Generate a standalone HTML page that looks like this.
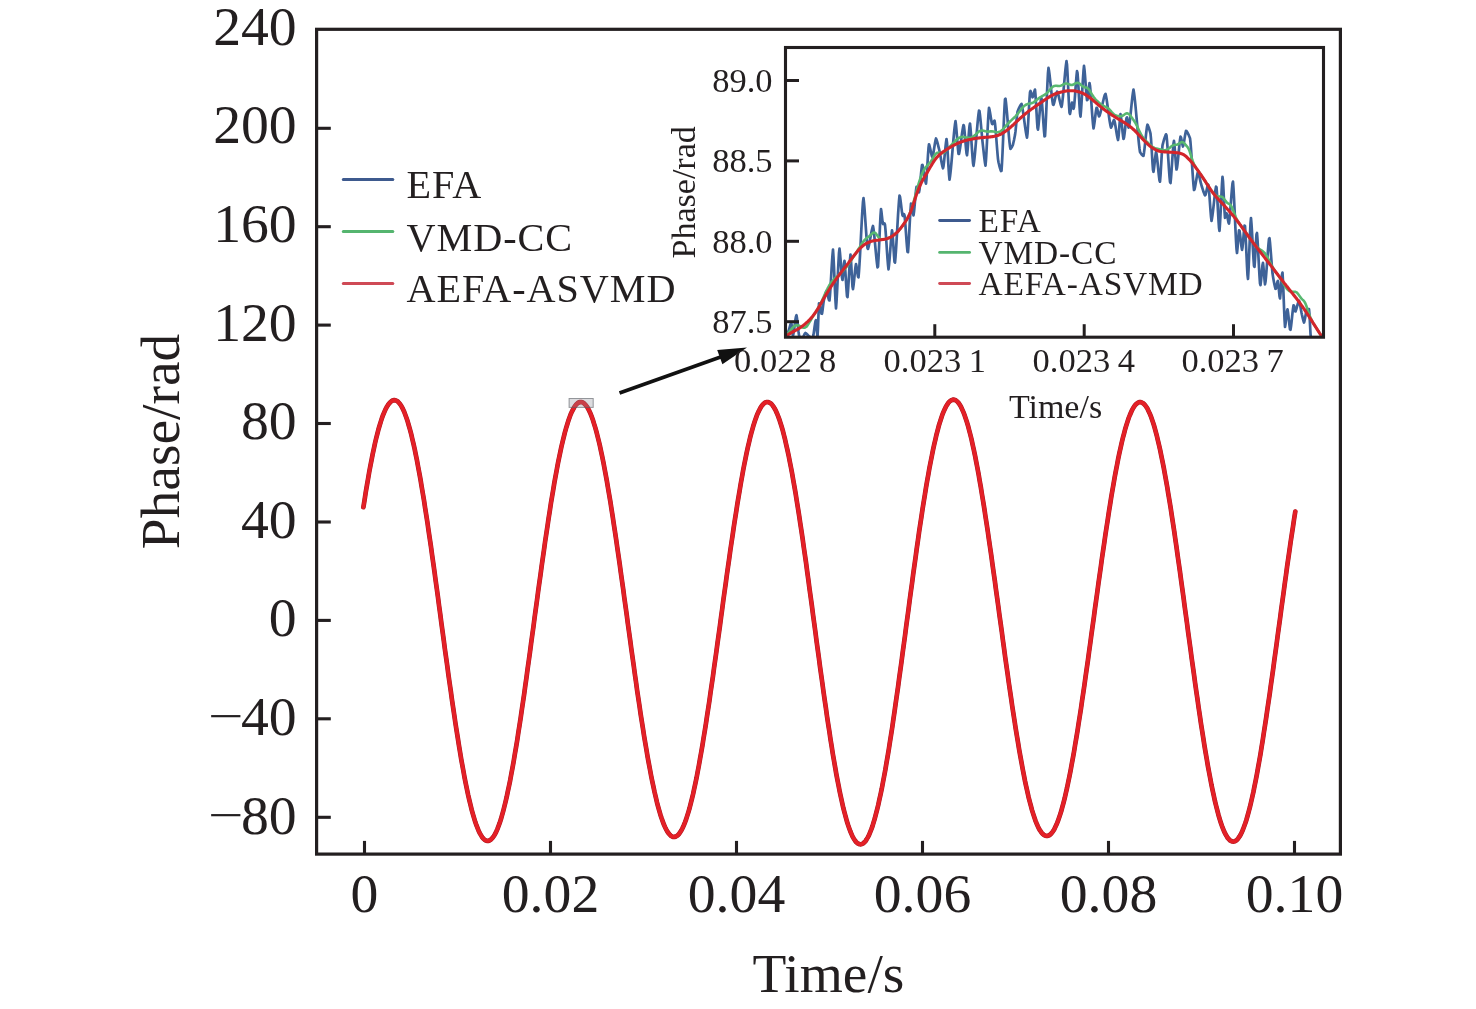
<!DOCTYPE html>
<html lang="en"><head><meta charset="utf-8"><title>Phase demodulation comparison</title>
<style>html,body{margin:0;padding:0;background:#fff}svg{display:block}text{font-family:"Liberation Serif","Times New Roman",serif;fill:#231f20}</style></head><body>
<svg width="1476" height="1009" viewBox="0 0 1476 1009">
<rect width="1476" height="1009" fill="#fff"/>
<defs><clipPath id="ci"><rect x="785.5" y="47.5" width="538" height="289.7"/></clipPath></defs>
<g fill="none" stroke-linecap="round" stroke-linejoin="round">
<path d="M363.4,507.2 L364.6,499.8 L365.7,492.5 L366.9,485.5 L368.1,478.7 L369.2,472.1 L370.4,465.8 L371.6,459.8 L372.7,454.0 L373.9,448.5 L375.0,443.2 L376.2,438.3 L377.4,433.6 L378.5,429.2 L379.7,425.2 L380.9,421.4 L382.0,417.9 L383.2,414.7 L384.4,411.9 L385.5,409.3 L386.7,407.1 L387.9,405.2 L389.0,403.6 L390.2,402.3 L391.4,401.3 L392.5,400.6 L393.7,400.2 L394.9,400.2 L396.0,400.5 L397.2,401.1 L398.3,402.1 L399.5,403.3 L400.7,405.0 L401.8,406.9 L403.0,409.2 L404.2,411.8 L405.3,414.8 L406.5,418.0 L407.7,421.6 L408.8,425.5 L410.0,429.7 L411.2,434.1 L412.3,438.9 L413.5,443.9 L414.7,449.2 L415.8,454.8 L417.0,460.6 L418.1,466.7 L419.3,473.0 L420.5,479.5 L421.6,486.3 L422.8,493.3 L424.0,500.4 L425.1,507.8 L426.3,515.3 L427.5,523.0 L428.6,530.8 L429.8,538.8 L431.0,546.9 L432.1,555.1 L433.3,563.4 L434.5,571.8 L435.6,580.2 L436.8,588.8 L438.0,597.4 L439.1,606.0 L440.3,614.6 L441.4,623.3 L442.6,631.9 L443.8,640.6 L444.9,649.2 L446.1,657.7 L447.3,666.2 L448.4,674.6 L449.6,683.0 L450.8,691.2 L451.9,699.4 L453.1,707.4 L454.3,715.3 L455.4,723.0 L456.6,730.6 L457.8,738.0 L458.9,745.2 L460.1,752.3 L461.2,759.1 L462.4,765.7 L463.6,772.1 L464.7,778.3 L465.9,784.2 L467.1,789.9 L468.2,795.3 L469.4,800.4 L470.6,805.3 L471.7,809.9 L472.9,814.1 L474.1,818.1 L475.2,821.8 L476.4,825.2 L477.6,828.2 L478.7,831.0 L479.9,833.4 L481.1,835.4 L482.2,837.2 L483.4,838.6 L484.5,839.7 L485.7,840.4 L486.9,840.8 L488.0,840.9 L489.2,840.6 L490.4,840.0 L491.5,839.0 L492.7,837.7 L493.9,836.0 L495.0,834.1 L496.2,831.8 L497.4,829.1 L498.5,826.2 L499.7,822.9 L500.9,819.3 L502.0,815.4 L503.2,811.2 L504.3,806.8 L505.5,802.0 L506.7,796.9 L507.8,791.6 L509.0,786.0 L510.2,780.2 L511.3,774.1 L512.5,767.8 L513.7,761.2 L514.8,754.4 L516.0,747.5 L517.2,740.3 L518.3,732.9 L519.5,725.4 L520.7,717.7 L521.8,709.9 L523.0,701.9 L524.2,693.8 L525.3,685.6 L526.5,677.3 L527.6,668.9 L528.8,660.5 L530.0,651.9 L531.1,643.4 L532.3,634.8 L533.5,626.2 L534.6,617.5 L535.8,608.9 L537.0,600.3 L538.1,591.7 L539.3,583.2 L540.5,574.8 L541.6,566.4 L542.8,558.1 L544.0,549.9 L545.1,541.8 L546.3,533.8 L547.5,526.0 L548.6,518.3 L549.8,510.8 L550.9,503.4 L552.1,496.3 L553.3,489.3 L554.4,482.5 L555.6,476.0 L556.8,469.6 L557.9,463.5 L559.1,457.7 L560.3,452.1 L561.4,446.8 L562.6,441.7 L563.8,436.9 L564.9,432.4 L566.1,428.2 L567.3,424.2 L568.4,420.6 L569.6,417.3 L570.7,414.3 L571.9,411.6 L573.1,409.3 L574.2,407.3 L575.4,405.5 L576.6,404.2 L577.7,403.1 L578.9,402.4 L580.1,402.1 L581.2,402.0 L582.4,402.3 L583.6,403.0 L584.7,404.0 L585.9,405.3 L587.1,406.9 L588.2,408.9 L589.4,411.2 L590.6,413.8 L591.7,416.7 L592.9,420.0 L594.0,423.6 L595.2,427.4 L596.4,431.6 L597.5,436.0 L598.7,440.8 L599.9,445.8 L601.0,451.1 L602.2,456.6 L603.4,462.4 L604.5,468.4 L605.7,474.7 L606.9,481.2 L608.0,487.9 L609.2,494.8 L610.4,501.9 L611.5,509.1 L612.7,516.6 L613.8,524.2 L615.0,531.9 L616.2,539.8 L617.3,547.8 L618.5,555.9 L619.7,564.1 L620.8,572.4 L622.0,580.8 L623.2,589.2 L624.3,597.7 L625.5,606.2 L626.7,614.7 L627.8,623.2 L629.0,631.8 L630.2,640.3 L631.3,648.7 L632.5,657.2 L633.7,665.5 L634.8,673.8 L636.0,682.0 L637.1,690.2 L638.3,698.2 L639.5,706.0 L640.6,713.8 L641.8,721.4 L643.0,728.8 L644.1,736.1 L645.3,743.2 L646.5,750.1 L647.6,756.8 L648.8,763.3 L650.0,769.6 L651.1,775.6 L652.3,781.5 L653.5,787.0 L654.6,792.3 L655.8,797.3 L656.9,802.1 L658.1,806.6 L659.3,810.8 L660.4,814.7 L661.6,818.3 L662.8,821.6 L663.9,824.6 L665.1,827.2 L666.3,829.6 L667.4,831.6 L668.6,833.3 L669.8,834.7 L670.9,835.8 L672.1,836.5 L673.3,836.9 L674.4,836.9 L675.6,836.6 L676.8,836.0 L677.9,835.1 L679.1,833.8 L680.2,832.2 L681.4,830.3 L682.6,828.0 L683.7,825.5 L684.9,822.6 L686.1,819.4 L687.2,815.9 L688.4,812.1 L689.6,808.0 L690.7,803.6 L691.9,798.9 L693.1,794.0 L694.2,788.8 L695.4,783.3 L696.6,777.6 L697.7,771.6 L698.9,765.4 L700.0,759.0 L701.2,752.4 L702.4,745.5 L703.5,738.5 L704.7,731.3 L705.9,723.9 L707.0,716.3 L708.2,708.6 L709.4,700.8 L710.5,692.8 L711.7,684.7 L712.9,676.6 L714.0,668.3 L715.2,659.9 L716.4,651.5 L717.5,643.1 L718.7,634.6 L719.9,626.1 L721.0,617.6 L722.2,609.0 L723.3,600.5 L724.5,592.0 L725.7,583.6 L726.8,575.2 L728.0,566.9 L729.2,558.7 L730.3,550.5 L731.5,542.5 L732.7,534.6 L733.8,526.8 L735.0,519.1 L736.2,511.7 L737.3,504.3 L738.5,497.2 L739.7,490.2 L740.8,483.4 L742.0,476.9 L743.1,470.6 L744.3,464.4 L745.5,458.6 L746.6,453.0 L747.8,447.6 L749.0,442.5 L750.1,437.7 L751.3,433.1 L752.5,428.9 L753.6,424.9 L754.8,421.2 L756.0,417.9 L757.1,414.8 L758.3,412.1 L759.5,409.7 L760.6,407.6 L761.8,405.8 L763.0,404.4 L764.1,403.3 L765.3,402.5 L766.4,402.1 L767.6,402.0 L768.8,402.3 L769.9,402.8 L771.1,403.7 L772.3,405.0 L773.4,406.6 L774.6,408.5 L775.8,410.7 L776.9,413.2 L778.1,416.1 L779.3,419.3 L780.4,422.8 L781.6,426.5 L782.8,430.6 L783.9,435.0 L785.1,439.7 L786.2,444.7 L787.4,449.9 L788.6,455.4 L789.7,461.1 L790.9,467.1 L792.1,473.4 L793.2,479.8 L794.4,486.5 L795.6,493.4 L796.7,500.5 L797.9,507.8 L799.1,515.3 L800.2,522.9 L801.4,530.7 L802.6,538.7 L803.7,546.7 L804.9,554.9 L806.1,563.2 L807.2,571.6 L808.4,580.1 L809.5,588.7 L810.7,597.3 L811.9,605.9 L813.0,614.6 L814.2,623.3 L815.4,632.0 L816.5,640.7 L817.7,649.4 L818.9,658.0 L820.0,666.6 L821.2,675.1 L822.4,683.5 L823.5,691.8 L824.7,700.1 L825.9,708.2 L827.0,716.2 L828.2,724.1 L829.4,731.7 L830.5,739.3 L831.7,746.6 L832.8,753.8 L834.0,760.7 L835.2,767.5 L836.3,774.0 L837.5,780.3 L838.7,786.3 L839.8,792.1 L841.0,797.6 L842.2,802.9 L843.3,807.9 L844.5,812.5 L845.7,816.9 L846.8,821.0 L848.0,824.8 L849.2,828.2 L850.3,831.3 L851.5,834.1 L852.6,836.6 L853.8,838.7 L855.0,840.5 L856.1,842.0 L857.3,843.1 L858.5,843.8 L859.6,844.2 L860.8,844.3 L862.0,844.0 L863.1,843.4 L864.3,842.4 L865.5,841.1 L866.6,839.4 L867.8,837.4 L869.0,835.1 L870.1,832.4 L871.3,829.4 L872.5,826.1 L873.6,822.4 L874.8,818.5 L875.9,814.2 L877.1,809.6 L878.3,804.8 L879.4,799.6 L880.6,794.2 L881.8,788.6 L882.9,782.6 L884.1,776.4 L885.3,770.0 L886.4,763.3 L887.6,756.5 L888.8,749.4 L889.9,742.1 L891.1,734.6 L892.3,727.0 L893.4,719.2 L894.6,711.2 L895.7,703.1 L896.9,694.9 L898.1,686.6 L899.2,678.1 L900.4,669.6 L901.6,661.0 L902.7,652.4 L903.9,643.7 L905.1,635.0 L906.2,626.2 L907.4,617.5 L908.6,608.7 L909.7,600.0 L910.9,591.3 L912.1,582.7 L913.2,574.1 L914.4,565.6 L915.6,557.2 L916.7,548.9 L917.9,540.7 L919.0,532.6 L920.2,524.7 L921.4,516.9 L922.5,509.3 L923.7,501.9 L924.9,494.6 L926.0,487.6 L927.2,480.7 L928.4,474.1 L929.5,467.7 L930.7,461.6 L931.9,455.6 L933.0,450.0 L934.2,444.6 L935.4,439.5 L936.5,434.6 L937.7,430.1 L938.8,425.8 L940.0,421.9 L941.2,418.3 L942.3,414.9 L943.5,411.9 L944.7,409.2 L945.8,406.9 L947.0,404.8 L948.2,403.1 L949.3,401.8 L950.5,400.8 L951.7,400.1 L952.8,399.7 L954.0,399.7 L955.2,400.0 L956.3,400.7 L957.5,401.7 L958.7,403.1 L959.8,404.8 L961.0,406.8 L962.1,409.2 L963.3,411.9 L964.5,414.9 L965.6,418.2 L966.8,421.8 L968.0,425.7 L969.1,430.0 L970.3,434.5 L971.5,439.3 L972.6,444.4 L973.8,449.8 L975.0,455.4 L976.1,461.2 L977.3,467.4 L978.5,473.7 L979.6,480.3 L980.8,487.0 L981.9,494.0 L983.1,501.2 L984.3,508.5 L985.4,516.0 L986.6,523.7 L987.8,531.5 L988.9,539.4 L990.1,547.5 L991.3,555.7 L992.4,563.9 L993.6,572.3 L994.8,580.7 L995.9,589.1 L997.1,597.6 L998.3,606.2 L999.4,614.7 L1000.6,623.2 L1001.8,631.8 L1002.9,640.3 L1004.1,648.8 L1005.2,657.2 L1006.4,665.6 L1007.6,673.8 L1008.7,682.0 L1009.9,690.1 L1011.1,698.1 L1012.2,706.0 L1013.4,713.7 L1014.6,721.3 L1015.7,728.7 L1016.9,735.9 L1018.1,743.0 L1019.2,749.9 L1020.4,756.5 L1021.6,763.0 L1022.7,769.2 L1023.9,775.2 L1025.0,781.0 L1026.2,786.5 L1027.4,791.8 L1028.5,796.8 L1029.7,801.5 L1030.9,805.9 L1032.0,810.1 L1033.2,813.9 L1034.4,817.5 L1035.5,820.8 L1036.7,823.7 L1037.9,826.4 L1039.0,828.7 L1040.2,830.7 L1041.4,832.4 L1042.5,833.7 L1043.7,834.8 L1044.9,835.5 L1046.0,835.9 L1047.2,835.9 L1048.3,835.7 L1049.5,835.1 L1050.7,834.1 L1051.8,832.9 L1053.0,831.3 L1054.2,829.4 L1055.3,827.1 L1056.5,824.6 L1057.7,821.7 L1058.8,818.5 L1060.0,815.0 L1061.2,811.3 L1062.3,807.2 L1063.5,802.8 L1064.7,798.2 L1065.8,793.3 L1067.0,788.1 L1068.1,782.7 L1069.3,777.0 L1070.5,771.0 L1071.6,764.9 L1072.8,758.5 L1074.0,751.9 L1075.1,745.0 L1076.3,738.0 L1077.5,730.9 L1078.6,723.5 L1079.8,716.0 L1081.0,708.3 L1082.1,700.5 L1083.3,692.6 L1084.5,684.5 L1085.6,676.4 L1086.8,668.1 L1088.0,659.8 L1089.1,651.5 L1090.3,643.0 L1091.4,634.6 L1092.6,626.1 L1093.8,617.6 L1094.9,609.1 L1096.1,600.6 L1097.3,592.1 L1098.4,583.7 L1099.6,575.3 L1100.8,567.0 L1101.9,558.8 L1103.1,550.7 L1104.3,542.6 L1105.4,534.7 L1106.6,527.0 L1107.8,519.3 L1108.9,511.8 L1110.1,504.5 L1111.2,497.4 L1112.4,490.4 L1113.6,483.6 L1114.7,477.1 L1115.9,470.7 L1117.1,464.6 L1118.2,458.8 L1119.4,453.1 L1120.6,447.8 L1121.7,442.7 L1122.9,437.8 L1124.1,433.3 L1125.2,429.0 L1126.4,425.1 L1127.6,421.4 L1128.7,418.0 L1129.9,415.0 L1131.1,412.2 L1132.2,409.8 L1133.4,407.7 L1134.5,406.0 L1135.7,404.5 L1136.9,403.4 L1138.0,402.7 L1139.2,402.2 L1140.4,402.1 L1141.5,402.4 L1142.7,403.0 L1143.9,403.9 L1145.0,405.1 L1146.2,406.7 L1147.4,408.6 L1148.5,410.9 L1149.7,413.4 L1150.9,416.3 L1152.0,419.5 L1153.2,423.0 L1154.4,426.8 L1155.5,430.9 L1156.7,435.3 L1157.8,440.0 L1159.0,445.0 L1160.2,450.2 L1161.3,455.7 L1162.5,461.5 L1163.7,467.5 L1164.8,473.7 L1166.0,480.2 L1167.2,486.9 L1168.3,493.8 L1169.5,500.9 L1170.7,508.2 L1171.8,515.7 L1173.0,523.3 L1174.2,531.1 L1175.3,539.0 L1176.5,547.1 L1177.6,555.2 L1178.8,563.5 L1180.0,571.9 L1181.1,580.3 L1182.3,588.8 L1183.5,597.4 L1184.6,606.0 L1185.8,614.6 L1187.0,623.3 L1188.1,631.9 L1189.3,640.5 L1190.5,649.1 L1191.6,657.7 L1192.8,666.2 L1194.0,674.6 L1195.1,683.0 L1196.3,691.3 L1197.5,699.4 L1198.6,707.5 L1199.8,715.4 L1200.9,723.1 L1202.1,730.7 L1203.3,738.2 L1204.4,745.4 L1205.6,752.5 L1206.8,759.4 L1207.9,766.0 L1209.1,772.4 L1210.3,778.6 L1211.4,784.6 L1212.6,790.3 L1213.8,795.7 L1214.9,800.9 L1216.1,805.8 L1217.3,810.4 L1218.4,814.7 L1219.6,818.7 L1220.7,822.4 L1221.9,825.8 L1223.1,828.9 L1224.2,831.6 L1225.4,834.0 L1226.6,836.1 L1227.7,837.9 L1228.9,839.3 L1230.1,840.4 L1231.2,841.1 L1232.4,841.5 L1233.6,841.6 L1234.7,841.3 L1235.9,840.7 L1237.1,839.7 L1238.2,838.4 L1239.4,836.7 L1240.6,834.7 L1241.7,832.4 L1242.9,829.8 L1244.0,826.8 L1245.2,823.5 L1246.4,819.9 L1247.5,816.0 L1248.7,811.7 L1249.9,807.2 L1251.0,802.4 L1252.2,797.3 L1253.4,792.0 L1254.5,786.3 L1255.7,780.5 L1256.9,774.3 L1258.0,768.0 L1259.2,761.4 L1260.4,754.6 L1261.5,747.6 L1262.7,740.4 L1263.8,733.0 L1265.0,725.4 L1266.2,717.7 L1267.3,709.9 L1268.5,701.9 L1269.7,693.8 L1270.8,685.6 L1272.0,677.3 L1273.2,668.9 L1274.3,660.4 L1275.5,651.9 L1276.7,643.3 L1277.8,634.7 L1279.0,626.1 L1280.2,617.5 L1281.3,608.9 L1282.5,600.4 L1283.7,591.8 L1284.8,583.4 L1286.0,575.0 L1287.1,566.6 L1288.3,558.4 L1289.5,550.2 L1290.6,542.2 L1291.8,534.3 L1293.0,526.6 L1294.1,519.0 L1295.3,511.5" stroke="#a8161f" stroke-width="4.7"/>
<path d="M363.4,507.2 L364.6,499.8 L365.7,492.5 L366.9,485.5 L368.1,478.7 L369.2,472.1 L370.4,465.8 L371.6,459.8 L372.7,454.0 L373.9,448.5 L375.0,443.2 L376.2,438.3 L377.4,433.6 L378.5,429.2 L379.7,425.2 L380.9,421.4 L382.0,417.9 L383.2,414.7 L384.4,411.9 L385.5,409.3 L386.7,407.1 L387.9,405.2 L389.0,403.6 L390.2,402.3 L391.4,401.3 L392.5,400.6 L393.7,400.2 L394.9,400.2 L396.0,400.5 L397.2,401.1 L398.3,402.1 L399.5,403.3 L400.7,405.0 L401.8,406.9 L403.0,409.2 L404.2,411.8 L405.3,414.8 L406.5,418.0 L407.7,421.6 L408.8,425.5 L410.0,429.7 L411.2,434.1 L412.3,438.9 L413.5,443.9 L414.7,449.2 L415.8,454.8 L417.0,460.6 L418.1,466.7 L419.3,473.0 L420.5,479.5 L421.6,486.3 L422.8,493.3 L424.0,500.4 L425.1,507.8 L426.3,515.3 L427.5,523.0 L428.6,530.8 L429.8,538.8 L431.0,546.9 L432.1,555.1 L433.3,563.4 L434.5,571.8 L435.6,580.2 L436.8,588.8 L438.0,597.4 L439.1,606.0 L440.3,614.6 L441.4,623.3 L442.6,631.9 L443.8,640.6 L444.9,649.2 L446.1,657.7 L447.3,666.2 L448.4,674.6 L449.6,683.0 L450.8,691.2 L451.9,699.4 L453.1,707.4 L454.3,715.3 L455.4,723.0 L456.6,730.6 L457.8,738.0 L458.9,745.2 L460.1,752.3 L461.2,759.1 L462.4,765.7 L463.6,772.1 L464.7,778.3 L465.9,784.2 L467.1,789.9 L468.2,795.3 L469.4,800.4 L470.6,805.3 L471.7,809.9 L472.9,814.1 L474.1,818.1 L475.2,821.8 L476.4,825.2 L477.6,828.2 L478.7,831.0 L479.9,833.4 L481.1,835.4 L482.2,837.2 L483.4,838.6 L484.5,839.7 L485.7,840.4 L486.9,840.8 L488.0,840.9 L489.2,840.6 L490.4,840.0 L491.5,839.0 L492.7,837.7 L493.9,836.0 L495.0,834.1 L496.2,831.8 L497.4,829.1 L498.5,826.2 L499.7,822.9 L500.9,819.3 L502.0,815.4 L503.2,811.2 L504.3,806.8 L505.5,802.0 L506.7,796.9 L507.8,791.6 L509.0,786.0 L510.2,780.2 L511.3,774.1 L512.5,767.8 L513.7,761.2 L514.8,754.4 L516.0,747.5 L517.2,740.3 L518.3,732.9 L519.5,725.4 L520.7,717.7 L521.8,709.9 L523.0,701.9 L524.2,693.8 L525.3,685.6 L526.5,677.3 L527.6,668.9 L528.8,660.5 L530.0,651.9 L531.1,643.4 L532.3,634.8 L533.5,626.2 L534.6,617.5 L535.8,608.9 L537.0,600.3 L538.1,591.7 L539.3,583.2 L540.5,574.8 L541.6,566.4 L542.8,558.1 L544.0,549.9 L545.1,541.8 L546.3,533.8 L547.5,526.0 L548.6,518.3 L549.8,510.8 L550.9,503.4 L552.1,496.3 L553.3,489.3 L554.4,482.5 L555.6,476.0 L556.8,469.6 L557.9,463.5 L559.1,457.7 L560.3,452.1 L561.4,446.8 L562.6,441.7 L563.8,436.9 L564.9,432.4 L566.1,428.2 L567.3,424.2 L568.4,420.6 L569.6,417.3 L570.7,414.3 L571.9,411.6 L573.1,409.3 L574.2,407.3 L575.4,405.5 L576.6,404.2 L577.7,403.1 L578.9,402.4 L580.1,402.1 L581.2,402.0 L582.4,402.3 L583.6,403.0 L584.7,404.0 L585.9,405.3 L587.1,406.9 L588.2,408.9 L589.4,411.2 L590.6,413.8 L591.7,416.7 L592.9,420.0 L594.0,423.6 L595.2,427.4 L596.4,431.6 L597.5,436.0 L598.7,440.8 L599.9,445.8 L601.0,451.1 L602.2,456.6 L603.4,462.4 L604.5,468.4 L605.7,474.7 L606.9,481.2 L608.0,487.9 L609.2,494.8 L610.4,501.9 L611.5,509.1 L612.7,516.6 L613.8,524.2 L615.0,531.9 L616.2,539.8 L617.3,547.8 L618.5,555.9 L619.7,564.1 L620.8,572.4 L622.0,580.8 L623.2,589.2 L624.3,597.7 L625.5,606.2 L626.7,614.7 L627.8,623.2 L629.0,631.8 L630.2,640.3 L631.3,648.7 L632.5,657.2 L633.7,665.5 L634.8,673.8 L636.0,682.0 L637.1,690.2 L638.3,698.2 L639.5,706.0 L640.6,713.8 L641.8,721.4 L643.0,728.8 L644.1,736.1 L645.3,743.2 L646.5,750.1 L647.6,756.8 L648.8,763.3 L650.0,769.6 L651.1,775.6 L652.3,781.5 L653.5,787.0 L654.6,792.3 L655.8,797.3 L656.9,802.1 L658.1,806.6 L659.3,810.8 L660.4,814.7 L661.6,818.3 L662.8,821.6 L663.9,824.6 L665.1,827.2 L666.3,829.6 L667.4,831.6 L668.6,833.3 L669.8,834.7 L670.9,835.8 L672.1,836.5 L673.3,836.9 L674.4,836.9 L675.6,836.6 L676.8,836.0 L677.9,835.1 L679.1,833.8 L680.2,832.2 L681.4,830.3 L682.6,828.0 L683.7,825.5 L684.9,822.6 L686.1,819.4 L687.2,815.9 L688.4,812.1 L689.6,808.0 L690.7,803.6 L691.9,798.9 L693.1,794.0 L694.2,788.8 L695.4,783.3 L696.6,777.6 L697.7,771.6 L698.9,765.4 L700.0,759.0 L701.2,752.4 L702.4,745.5 L703.5,738.5 L704.7,731.3 L705.9,723.9 L707.0,716.3 L708.2,708.6 L709.4,700.8 L710.5,692.8 L711.7,684.7 L712.9,676.6 L714.0,668.3 L715.2,659.9 L716.4,651.5 L717.5,643.1 L718.7,634.6 L719.9,626.1 L721.0,617.6 L722.2,609.0 L723.3,600.5 L724.5,592.0 L725.7,583.6 L726.8,575.2 L728.0,566.9 L729.2,558.7 L730.3,550.5 L731.5,542.5 L732.7,534.6 L733.8,526.8 L735.0,519.1 L736.2,511.7 L737.3,504.3 L738.5,497.2 L739.7,490.2 L740.8,483.4 L742.0,476.9 L743.1,470.6 L744.3,464.4 L745.5,458.6 L746.6,453.0 L747.8,447.6 L749.0,442.5 L750.1,437.7 L751.3,433.1 L752.5,428.9 L753.6,424.9 L754.8,421.2 L756.0,417.9 L757.1,414.8 L758.3,412.1 L759.5,409.7 L760.6,407.6 L761.8,405.8 L763.0,404.4 L764.1,403.3 L765.3,402.5 L766.4,402.1 L767.6,402.0 L768.8,402.3 L769.9,402.8 L771.1,403.7 L772.3,405.0 L773.4,406.6 L774.6,408.5 L775.8,410.7 L776.9,413.2 L778.1,416.1 L779.3,419.3 L780.4,422.8 L781.6,426.5 L782.8,430.6 L783.9,435.0 L785.1,439.7 L786.2,444.7 L787.4,449.9 L788.6,455.4 L789.7,461.1 L790.9,467.1 L792.1,473.4 L793.2,479.8 L794.4,486.5 L795.6,493.4 L796.7,500.5 L797.9,507.8 L799.1,515.3 L800.2,522.9 L801.4,530.7 L802.6,538.7 L803.7,546.7 L804.9,554.9 L806.1,563.2 L807.2,571.6 L808.4,580.1 L809.5,588.7 L810.7,597.3 L811.9,605.9 L813.0,614.6 L814.2,623.3 L815.4,632.0 L816.5,640.7 L817.7,649.4 L818.9,658.0 L820.0,666.6 L821.2,675.1 L822.4,683.5 L823.5,691.8 L824.7,700.1 L825.9,708.2 L827.0,716.2 L828.2,724.1 L829.4,731.7 L830.5,739.3 L831.7,746.6 L832.8,753.8 L834.0,760.7 L835.2,767.5 L836.3,774.0 L837.5,780.3 L838.7,786.3 L839.8,792.1 L841.0,797.6 L842.2,802.9 L843.3,807.9 L844.5,812.5 L845.7,816.9 L846.8,821.0 L848.0,824.8 L849.2,828.2 L850.3,831.3 L851.5,834.1 L852.6,836.6 L853.8,838.7 L855.0,840.5 L856.1,842.0 L857.3,843.1 L858.5,843.8 L859.6,844.2 L860.8,844.3 L862.0,844.0 L863.1,843.4 L864.3,842.4 L865.5,841.1 L866.6,839.4 L867.8,837.4 L869.0,835.1 L870.1,832.4 L871.3,829.4 L872.5,826.1 L873.6,822.4 L874.8,818.5 L875.9,814.2 L877.1,809.6 L878.3,804.8 L879.4,799.6 L880.6,794.2 L881.8,788.6 L882.9,782.6 L884.1,776.4 L885.3,770.0 L886.4,763.3 L887.6,756.5 L888.8,749.4 L889.9,742.1 L891.1,734.6 L892.3,727.0 L893.4,719.2 L894.6,711.2 L895.7,703.1 L896.9,694.9 L898.1,686.6 L899.2,678.1 L900.4,669.6 L901.6,661.0 L902.7,652.4 L903.9,643.7 L905.1,635.0 L906.2,626.2 L907.4,617.5 L908.6,608.7 L909.7,600.0 L910.9,591.3 L912.1,582.7 L913.2,574.1 L914.4,565.6 L915.6,557.2 L916.7,548.9 L917.9,540.7 L919.0,532.6 L920.2,524.7 L921.4,516.9 L922.5,509.3 L923.7,501.9 L924.9,494.6 L926.0,487.6 L927.2,480.7 L928.4,474.1 L929.5,467.7 L930.7,461.6 L931.9,455.6 L933.0,450.0 L934.2,444.6 L935.4,439.5 L936.5,434.6 L937.7,430.1 L938.8,425.8 L940.0,421.9 L941.2,418.3 L942.3,414.9 L943.5,411.9 L944.7,409.2 L945.8,406.9 L947.0,404.8 L948.2,403.1 L949.3,401.8 L950.5,400.8 L951.7,400.1 L952.8,399.7 L954.0,399.7 L955.2,400.0 L956.3,400.7 L957.5,401.7 L958.7,403.1 L959.8,404.8 L961.0,406.8 L962.1,409.2 L963.3,411.9 L964.5,414.9 L965.6,418.2 L966.8,421.8 L968.0,425.7 L969.1,430.0 L970.3,434.5 L971.5,439.3 L972.6,444.4 L973.8,449.8 L975.0,455.4 L976.1,461.2 L977.3,467.4 L978.5,473.7 L979.6,480.3 L980.8,487.0 L981.9,494.0 L983.1,501.2 L984.3,508.5 L985.4,516.0 L986.6,523.7 L987.8,531.5 L988.9,539.4 L990.1,547.5 L991.3,555.7 L992.4,563.9 L993.6,572.3 L994.8,580.7 L995.9,589.1 L997.1,597.6 L998.3,606.2 L999.4,614.7 L1000.6,623.2 L1001.8,631.8 L1002.9,640.3 L1004.1,648.8 L1005.2,657.2 L1006.4,665.6 L1007.6,673.8 L1008.7,682.0 L1009.9,690.1 L1011.1,698.1 L1012.2,706.0 L1013.4,713.7 L1014.6,721.3 L1015.7,728.7 L1016.9,735.9 L1018.1,743.0 L1019.2,749.9 L1020.4,756.5 L1021.6,763.0 L1022.7,769.2 L1023.9,775.2 L1025.0,781.0 L1026.2,786.5 L1027.4,791.8 L1028.5,796.8 L1029.7,801.5 L1030.9,805.9 L1032.0,810.1 L1033.2,813.9 L1034.4,817.5 L1035.5,820.8 L1036.7,823.7 L1037.9,826.4 L1039.0,828.7 L1040.2,830.7 L1041.4,832.4 L1042.5,833.7 L1043.7,834.8 L1044.9,835.5 L1046.0,835.9 L1047.2,835.9 L1048.3,835.7 L1049.5,835.1 L1050.7,834.1 L1051.8,832.9 L1053.0,831.3 L1054.2,829.4 L1055.3,827.1 L1056.5,824.6 L1057.7,821.7 L1058.8,818.5 L1060.0,815.0 L1061.2,811.3 L1062.3,807.2 L1063.5,802.8 L1064.7,798.2 L1065.8,793.3 L1067.0,788.1 L1068.1,782.7 L1069.3,777.0 L1070.5,771.0 L1071.6,764.9 L1072.8,758.5 L1074.0,751.9 L1075.1,745.0 L1076.3,738.0 L1077.5,730.9 L1078.6,723.5 L1079.8,716.0 L1081.0,708.3 L1082.1,700.5 L1083.3,692.6 L1084.5,684.5 L1085.6,676.4 L1086.8,668.1 L1088.0,659.8 L1089.1,651.5 L1090.3,643.0 L1091.4,634.6 L1092.6,626.1 L1093.8,617.6 L1094.9,609.1 L1096.1,600.6 L1097.3,592.1 L1098.4,583.7 L1099.6,575.3 L1100.8,567.0 L1101.9,558.8 L1103.1,550.7 L1104.3,542.6 L1105.4,534.7 L1106.6,527.0 L1107.8,519.3 L1108.9,511.8 L1110.1,504.5 L1111.2,497.4 L1112.4,490.4 L1113.6,483.6 L1114.7,477.1 L1115.9,470.7 L1117.1,464.6 L1118.2,458.8 L1119.4,453.1 L1120.6,447.8 L1121.7,442.7 L1122.9,437.8 L1124.1,433.3 L1125.2,429.0 L1126.4,425.1 L1127.6,421.4 L1128.7,418.0 L1129.9,415.0 L1131.1,412.2 L1132.2,409.8 L1133.4,407.7 L1134.5,406.0 L1135.7,404.5 L1136.9,403.4 L1138.0,402.7 L1139.2,402.2 L1140.4,402.1 L1141.5,402.4 L1142.7,403.0 L1143.9,403.9 L1145.0,405.1 L1146.2,406.7 L1147.4,408.6 L1148.5,410.9 L1149.7,413.4 L1150.9,416.3 L1152.0,419.5 L1153.2,423.0 L1154.4,426.8 L1155.5,430.9 L1156.7,435.3 L1157.8,440.0 L1159.0,445.0 L1160.2,450.2 L1161.3,455.7 L1162.5,461.5 L1163.7,467.5 L1164.8,473.7 L1166.0,480.2 L1167.2,486.9 L1168.3,493.8 L1169.5,500.9 L1170.7,508.2 L1171.8,515.7 L1173.0,523.3 L1174.2,531.1 L1175.3,539.0 L1176.5,547.1 L1177.6,555.2 L1178.8,563.5 L1180.0,571.9 L1181.1,580.3 L1182.3,588.8 L1183.5,597.4 L1184.6,606.0 L1185.8,614.6 L1187.0,623.3 L1188.1,631.9 L1189.3,640.5 L1190.5,649.1 L1191.6,657.7 L1192.8,666.2 L1194.0,674.6 L1195.1,683.0 L1196.3,691.3 L1197.5,699.4 L1198.6,707.5 L1199.8,715.4 L1200.9,723.1 L1202.1,730.7 L1203.3,738.2 L1204.4,745.4 L1205.6,752.5 L1206.8,759.4 L1207.9,766.0 L1209.1,772.4 L1210.3,778.6 L1211.4,784.6 L1212.6,790.3 L1213.8,795.7 L1214.9,800.9 L1216.1,805.8 L1217.3,810.4 L1218.4,814.7 L1219.6,818.7 L1220.7,822.4 L1221.9,825.8 L1223.1,828.9 L1224.2,831.6 L1225.4,834.0 L1226.6,836.1 L1227.7,837.9 L1228.9,839.3 L1230.1,840.4 L1231.2,841.1 L1232.4,841.5 L1233.6,841.6 L1234.7,841.3 L1235.9,840.7 L1237.1,839.7 L1238.2,838.4 L1239.4,836.7 L1240.6,834.7 L1241.7,832.4 L1242.9,829.8 L1244.0,826.8 L1245.2,823.5 L1246.4,819.9 L1247.5,816.0 L1248.7,811.7 L1249.9,807.2 L1251.0,802.4 L1252.2,797.3 L1253.4,792.0 L1254.5,786.3 L1255.7,780.5 L1256.9,774.3 L1258.0,768.0 L1259.2,761.4 L1260.4,754.6 L1261.5,747.6 L1262.7,740.4 L1263.8,733.0 L1265.0,725.4 L1266.2,717.7 L1267.3,709.9 L1268.5,701.9 L1269.7,693.8 L1270.8,685.6 L1272.0,677.3 L1273.2,668.9 L1274.3,660.4 L1275.5,651.9 L1276.7,643.3 L1277.8,634.7 L1279.0,626.1 L1280.2,617.5 L1281.3,608.9 L1282.5,600.4 L1283.7,591.8 L1284.8,583.4 L1286.0,575.0 L1287.1,566.6 L1288.3,558.4 L1289.5,550.2 L1290.6,542.2 L1291.8,534.3 L1293.0,526.6 L1294.1,519.0 L1295.3,511.5" stroke="#e42027" stroke-width="3.8"/>
</g>
<rect x="569.1" y="398.5" width="24.1" height="8.9" fill="#8c8c96" fill-opacity="0.30" stroke="#5a5f66" stroke-opacity="0.62" stroke-width="1"/>
<rect x="316.6" y="29.3" width="1023.8" height="824.8" fill="none" stroke="#231f20" stroke-width="3.2"/>
<g stroke="#231f20" stroke-width="3.1"><line x1="316.6" y1="817.3" x2="330.8" y2="817.3"/><line x1="316.6" y1="718.8" x2="330.8" y2="718.8"/><line x1="316.6" y1="620.4" x2="330.8" y2="620.4"/><line x1="316.6" y1="522.0" x2="330.8" y2="522.0"/><line x1="316.6" y1="423.5" x2="330.8" y2="423.5"/><line x1="316.6" y1="325.1" x2="330.8" y2="325.1"/><line x1="316.6" y1="226.7" x2="330.8" y2="226.7"/><line x1="316.6" y1="128.3" x2="330.8" y2="128.3"/><line x1="364.5" y1="854.1" x2="364.5" y2="840.9"/><line x1="550.5" y1="854.1" x2="550.5" y2="840.9"/><line x1="736.5" y1="854.1" x2="736.5" y2="840.9"/><line x1="922.5" y1="854.1" x2="922.5" y2="840.9"/><line x1="1108.5" y1="854.1" x2="1108.5" y2="840.9"/><line x1="1294.5" y1="854.1" x2="1294.5" y2="840.9"/></g>
<g font-size="55.7" text-anchor="end"><text x="296.7" y="833.7">80</text><text transform="translate(243.5,830.0) scale(1.13,0.8)" style="font-size:55.7px">−</text><text x="296.7" y="735.0">40</text><text transform="translate(243.5,731.3) scale(1.13,0.8)" style="font-size:55.7px">−</text><text x="296.7" y="636.4">0</text><text x="296.7" y="537.8">40</text><text x="296.7" y="439.1">80</text><text x="296.7" y="340.5">120</text><text x="296.7" y="241.9">160</text><text x="296.7" y="143.3">200</text><text x="296.7" y="44.6">240</text></g>
<g font-size="55.7" text-anchor="middle"><text x="364.5" y="912.3">0</text><text x="550.5" y="912.3">0.02</text><text x="736.5" y="912.3">0.04</text><text x="922.5" y="912.3">0.06</text><text x="1108.5" y="912.3">0.08</text><text x="1294.5" y="912.3">0.10</text></g>
<text x="828.4" y="992" font-size="55.4" text-anchor="middle">Time/s</text>
<text transform="translate(179,441.5) rotate(-90)" font-size="55.4" text-anchor="middle">Phase/rad</text>
<line x1="343.3" y1="179.4" x2="392.8" y2="179.4" stroke="#3e5a8e" stroke-width="3" stroke-linecap="round"/>
<text x="406.5" y="198.4" font-size="40.2" letter-spacing="0.95">EFA</text>
<line x1="343.3" y1="231.5" x2="392.8" y2="231.5" stroke="#55b56f" stroke-width="3" stroke-linecap="round"/>
<text x="406.5" y="250.5" font-size="40.2" letter-spacing="0.95">VMD-CC</text>
<line x1="343.3" y1="283.4" x2="392.8" y2="283.4" stroke="#cf4a56" stroke-width="3" stroke-linecap="round"/>
<text x="406.5" y="302.4" font-size="40.2" letter-spacing="0.95">AEFA-ASVMD</text>
<line x1="619.5" y1="393" x2="722" y2="356.5" stroke="#111" stroke-width="3.7"/>
<polygon points="747,347.6 717.2,350.1 722.4,364.2" fill="#111"/>
<g clip-path="url(#ci)" fill="none" stroke-linejoin="round" stroke-linecap="round">
<path d="M785.5,335.0 L786.0,334.6 L786.5,334.1 L787.0,333.6 L787.5,333.0 L788.0,332.4 L788.5,331.3 L789.0,329.7 L789.5,328.0 L790.0,326.2 L790.5,324.5 L791.0,323.2 L791.5,323.8 L792.0,328.3 L792.5,333.3 L793.0,335.7 L793.5,333.3 L794.0,330.1 L794.5,326.5 L795.0,322.8 L795.5,319.3 L796.0,316.4 L796.5,315.2 L797.0,318.3 L797.5,322.4 L798.0,327.0 L798.5,331.5 L799.0,335.2 L799.5,337.0 L800.0,337.4 L800.5,337.7 L801.0,337.9 L801.5,338.2 L802.0,338.4 L802.5,338.4 L803.0,337.6 L803.5,336.5 L804.0,335.3 L804.5,334.2 L805.0,333.3 L805.5,333.0 L806.0,333.4 L806.5,333.8 L807.0,334.3 L807.5,334.8 L808.0,335.3 L808.5,335.8 L809.0,336.2 L809.5,336.6 L810.0,336.9 L810.5,337.3 L811.0,337.6 L811.5,337.9 L812.0,338.2 L812.5,338.4 L813.0,337.3 L813.5,334.6 L814.0,331.2 L814.5,327.5 L815.0,324.1 L815.5,321.2 L816.0,320.2 L816.5,325.6 L817.0,332.1 L817.5,336.9 L818.0,327.3 L818.5,314.2 L819.0,303.4 L819.5,303.4 L820.0,305.8 L820.5,308.6 L821.0,311.4 L821.5,313.7 L822.0,313.8 L822.5,310.5 L823.0,306.4 L823.5,302.4 L824.0,299.6 L824.5,297.5 L825.0,295.5 L825.5,293.7 L826.0,292.1 L826.5,290.9 L827.0,292.2 L827.5,294.1 L828.0,296.3 L828.5,298.4 L829.0,300.2 L829.5,300.4 L830.0,294.8 L830.5,287.4 L831.0,278.9 L831.5,270.2 L832.0,261.9 L832.5,254.9 L833.0,249.7 L833.5,257.0 L834.0,267.3 L834.5,279.0 L835.0,290.8 L835.5,301.1 L836.0,308.4 L836.5,301.9 L837.0,293.0 L837.5,282.6 L838.0,271.8 L838.5,261.6 L839.0,253.0 L839.5,248.7 L840.0,253.2 L840.5,259.1 L841.0,265.7 L841.5,272.1 L842.0,277.5 L842.5,280.0 L843.0,275.2 L843.5,269.0 L844.0,263.2 L844.5,260.8 L845.0,266.4 L845.5,273.8 L846.0,281.9 L846.5,289.7 L847.0,296.2 L847.5,297.1 L848.0,291.1 L848.5,283.4 L849.0,275.0 L849.5,266.8 L850.0,259.6 L850.5,254.5 L851.0,260.7 L851.5,269.5 L852.0,278.8 L852.5,286.8 L853.0,289.1 L853.5,285.5 L854.0,281.0 L854.5,276.1 L855.0,271.2 L855.5,267.0 L856.0,264.0 L856.5,266.4 L857.0,269.7 L857.5,273.3 L858.0,276.5 L858.5,277.4 L859.0,271.5 L859.5,264.0 L860.0,255.3 L860.5,245.7 L861.0,235.9 L861.5,226.1 L862.0,216.8 L862.5,208.5 L863.0,201.6 L863.5,198.1 L864.0,202.7 L864.5,208.6 L865.0,215.5 L865.5,222.8 L866.0,230.2 L866.5,237.2 L867.0,243.3 L867.5,248.2 L868.0,248.9 L868.5,247.1 L869.0,244.9 L869.5,242.4 L870.0,239.8 L870.5,237.0 L871.0,234.3 L871.5,231.8 L872.0,229.5 L872.5,227.5 L873.0,226.0 L873.5,229.0 L874.0,233.1 L874.5,237.9 L875.0,243.1 L875.5,248.6 L876.0,254.0 L876.5,259.1 L877.0,263.6 L877.5,267.3 L878.0,266.6 L878.5,258.5 L879.0,248.1 L879.5,236.7 L880.0,225.6 L880.5,215.9 L881.0,209.0 L881.5,212.3 L882.0,217.0 L882.5,221.6 L883.0,224.1 L883.5,223.9 L884.0,223.6 L884.5,223.4 L885.0,224.8 L885.5,230.0 L886.0,236.6 L886.5,244.0 L887.0,251.6 L887.5,258.7 L888.0,264.8 L888.5,269.3 L889.0,265.3 L889.5,259.9 L890.0,253.5 L890.5,246.8 L891.0,240.3 L891.5,234.7 L892.0,230.3 L892.5,233.5 L893.0,240.1 L893.5,247.9 L894.0,255.5 L894.5,261.8 L895.0,262.7 L895.5,257.1 L896.0,250.0 L896.5,241.9 L897.0,233.2 L897.5,224.3 L898.0,215.7 L898.5,207.8 L899.0,200.9 L899.5,195.6 L900.0,196.8 L900.5,200.2 L901.0,204.2 L901.5,208.4 L902.0,212.3 L902.5,215.3 L903.0,215.9 L903.5,215.0 L904.0,214.1 L904.5,215.2 L905.0,220.1 L905.5,226.4 L906.0,233.3 L906.5,240.3 L907.0,246.7 L907.5,251.9 L908.0,252.2 L908.5,245.5 L909.0,236.9 L909.5,227.5 L910.0,218.1 L910.5,209.9 L911.0,203.6 L911.5,204.3 L912.0,207.1 L912.5,210.3 L913.0,213.3 L913.5,215.4 L914.0,211.8 L914.5,206.9 L915.0,201.2 L915.5,195.5 L916.0,190.5 L916.5,186.9 L917.0,187.7 L917.5,188.9 L918.0,190.2 L918.5,191.4 L919.0,192.3 L919.5,189.8 L920.0,185.2 L920.5,179.8 L921.0,174.2 L921.5,169.1 L922.0,165.1 L922.5,164.9 L923.0,167.2 L923.5,170.0 L924.0,173.2 L924.5,176.3 L925.0,179.3 L925.5,181.8 L926.0,183.7 L926.5,178.5 L927.0,171.3 L927.5,163.1 L928.0,154.9 L928.5,148.0 L929.0,144.3 L929.5,145.8 L930.0,147.8 L930.5,150.1 L931.0,152.4 L931.5,154.6 L932.0,156.4 L932.5,157.2 L933.0,155.1 L933.5,152.4 L934.0,149.3 L934.5,146.1 L935.0,143.0 L935.5,140.4 L936.0,138.5 L936.5,139.7 L937.0,141.2 L937.5,142.9 L938.0,144.9 L938.5,146.9 L939.0,148.8 L939.5,151.0 L940.0,153.6 L940.5,156.3 L941.0,159.2 L941.5,161.9 L942.0,164.4 L942.5,166.6 L943.0,168.3 L943.5,166.2 L944.0,162.1 L944.5,157.2 L945.0,152.0 L945.5,146.9 L946.0,142.4 L946.5,139.0 L947.0,142.6 L947.5,149.8 L948.0,158.2 L948.5,166.8 L949.0,174.3 L949.5,179.7 L950.0,176.5 L950.5,172.4 L951.0,167.5 L951.5,162.1 L952.0,156.4 L952.5,150.4 L953.0,144.4 L953.5,138.7 L954.0,133.3 L954.5,128.4 L955.0,124.3 L955.5,121.1 L956.0,125.0 L956.5,130.5 L957.0,136.8 L957.5,143.3 L958.0,149.2 L958.5,153.9 L959.0,154.0 L959.5,151.5 L960.0,148.5 L960.5,145.0 L961.0,141.3 L961.5,137.5 L962.0,133.8 L962.5,130.4 L963.0,127.4 L963.5,125.0 L964.0,126.3 L964.5,130.9 L965.0,136.5 L965.5,142.6 L966.0,148.3 L966.5,153.2 L967.0,155.3 L967.5,150.8 L968.0,144.8 L968.5,138.0 L969.0,131.5 L969.5,126.0 L970.0,123.5 L970.5,128.4 L971.0,134.9 L971.5,142.3 L972.0,149.9 L972.5,157.0 L973.0,162.9 L973.5,165.8 L974.0,162.4 L974.5,158.0 L975.0,153.0 L975.5,147.4 L976.0,141.5 L976.5,135.5 L977.0,129.6 L977.5,123.9 L978.0,118.7 L978.5,114.2 L979.0,110.6 L979.5,111.2 L980.0,115.2 L980.5,120.0 L981.0,125.3 L981.5,130.9 L982.0,136.4 L982.5,141.6 L983.0,146.1 L983.5,150.6 L984.0,155.1 L984.5,159.3 L985.0,163.0 L985.5,165.7 L986.0,159.7 L986.5,151.4 L987.0,141.8 L987.5,131.7 L988.0,122.1 L988.5,113.8 L989.0,107.8 L989.5,109.7 L990.0,112.4 L990.5,115.5 L991.0,118.7 L991.5,121.6 L992.0,123.8 L992.5,124.1 L993.0,123.3 L993.5,122.3 L994.0,121.3 L994.5,120.6 L995.0,123.5 L995.5,128.5 L996.0,134.5 L996.5,141.0 L997.0,147.5 L997.5,153.7 L998.0,159.1 L998.5,162.2 L999.0,164.3 L999.5,166.3 L1000.0,168.1 L1000.5,169.7 L1001.0,171.1 L1001.5,170.8 L1002.0,163.2 L1002.5,153.2 L1003.0,141.6 L1003.5,129.6 L1004.0,117.9 L1004.5,107.4 L1005.0,99.2 L1005.5,98.7 L1006.0,102.7 L1006.5,107.6 L1007.0,113.2 L1007.5,119.2 L1008.0,125.4 L1008.5,131.4 L1009.0,137.1 L1009.5,142.2 L1010.0,146.4 L1010.5,148.9 L1011.0,148.3 L1011.5,147.5 L1012.0,146.7 L1012.5,145.7 L1013.0,144.4 L1013.5,142.3 L1014.0,140.1 L1014.5,137.6 L1015.0,135.1 L1015.5,131.4 L1016.0,126.3 L1016.5,120.9 L1017.0,115.9 L1017.5,111.8 L1018.0,110.5 L1018.5,109.3 L1019.0,108.1 L1019.5,107.1 L1020.0,106.1 L1020.5,105.2 L1021.0,104.5 L1021.5,103.9 L1022.0,105.9 L1022.5,108.5 L1023.0,111.6 L1023.5,115.1 L1024.0,118.7 L1024.5,122.4 L1025.0,126.1 L1025.5,129.6 L1026.0,132.8 L1026.5,135.5 L1027.0,137.7 L1027.5,133.6 L1028.0,126.0 L1028.5,117.0 L1029.0,107.7 L1029.5,99.1 L1030.0,92.3 L1030.5,91.0 L1031.0,92.5 L1031.5,94.3 L1032.0,96.0 L1032.5,97.3 L1033.0,96.5 L1033.5,94.7 L1034.0,92.7 L1034.5,90.9 L1035.0,89.6 L1035.5,95.2 L1036.0,103.1 L1036.5,112.0 L1037.0,120.7 L1037.5,127.8 L1038.0,129.6 L1038.5,125.5 L1039.0,120.2 L1039.5,114.4 L1040.0,108.5 L1040.5,103.1 L1041.0,98.7 L1041.5,98.3 L1042.0,103.4 L1042.5,109.8 L1043.0,117.0 L1043.5,124.3 L1044.0,130.9 L1044.5,136.3 L1045.0,136.2 L1045.5,127.9 L1046.0,117.3 L1046.5,105.5 L1047.0,93.4 L1047.5,82.2 L1048.0,72.9 L1048.5,67.9 L1049.0,70.8 L1049.5,74.5 L1050.0,78.8 L1050.5,83.5 L1051.0,88.4 L1051.5,93.2 L1052.0,97.6 L1052.5,101.5 L1053.0,104.5 L1053.5,104.8 L1054.0,103.3 L1054.5,101.3 L1055.0,99.2 L1055.5,97.0 L1056.0,94.9 L1056.5,93.1 L1057.0,91.6 L1057.5,91.9 L1058.0,93.4 L1058.5,95.3 L1059.0,97.4 L1059.5,99.6 L1060.0,101.8 L1060.5,103.8 L1061.0,105.5 L1061.5,106.9 L1062.0,104.7 L1062.5,100.7 L1063.0,96.0 L1063.5,90.7 L1064.0,85.1 L1064.5,79.5 L1065.0,74.0 L1065.5,68.9 L1066.0,64.6 L1066.5,61.1 L1067.0,64.7 L1067.5,73.4 L1068.0,83.8 L1068.5,94.7 L1069.0,104.8 L1069.5,112.7 L1070.0,113.9 L1070.5,111.2 L1071.0,108.0 L1071.5,104.9 L1072.0,102.6 L1072.5,103.8 L1073.0,106.4 L1073.5,108.8 L1074.0,107.2 L1074.5,102.1 L1075.0,95.8 L1075.5,88.9 L1076.0,82.1 L1076.5,76.0 L1077.0,71.2 L1077.5,72.8 L1078.0,79.7 L1078.5,88.2 L1079.0,97.2 L1079.5,105.9 L1080.0,113.2 L1080.5,116.6 L1081.0,111.0 L1081.5,103.5 L1082.0,95.1 L1082.5,86.4 L1083.0,78.1 L1083.5,71.0 L1084.0,65.8 L1084.5,69.9 L1085.0,75.7 L1085.5,82.3 L1086.0,89.1 L1086.5,95.2 L1087.0,100.1 L1087.5,99.8 L1088.0,95.8 L1088.5,91.0 L1089.0,86.4 L1089.5,83.0 L1090.0,85.7 L1090.5,91.1 L1091.0,97.6 L1091.5,104.7 L1092.0,111.9 L1092.5,118.5 L1093.0,124.2 L1093.5,128.4 L1094.0,125.9 L1094.5,122.5 L1095.0,118.6 L1095.5,114.5 L1096.0,110.8 L1096.5,107.9 L1097.0,107.9 L1097.5,110.0 L1098.0,112.3 L1098.5,114.6 L1099.0,116.4 L1099.5,115.7 L1100.0,114.2 L1100.5,112.5 L1101.0,110.5 L1101.5,108.4 L1102.0,106.2 L1102.5,104.0 L1103.0,101.8 L1103.5,99.7 L1104.0,97.7 L1104.5,96.0 L1105.0,94.5 L1105.5,93.9 L1106.0,96.1 L1106.5,98.8 L1107.0,102.0 L1107.5,105.5 L1108.0,109.2 L1108.5,112.9 L1109.0,116.5 L1109.5,120.0 L1110.0,123.1 L1110.5,125.7 L1111.0,127.7 L1111.5,126.7 L1112.0,125.4 L1112.5,123.9 L1113.0,122.3 L1113.5,120.9 L1114.0,119.9 L1114.5,121.1 L1115.0,123.4 L1115.5,126.3 L1116.0,129.4 L1116.5,132.5 L1117.0,135.5 L1117.5,138.0 L1118.0,140.0 L1118.5,137.0 L1119.0,131.2 L1119.5,124.6 L1120.0,118.5 L1120.5,114.2 L1121.0,117.2 L1121.5,121.5 L1122.0,126.4 L1122.5,131.3 L1123.0,135.7 L1123.5,139.0 L1124.0,137.5 L1124.5,134.0 L1125.0,129.8 L1125.5,125.4 L1126.0,121.4 L1126.5,118.0 L1127.0,117.4 L1127.5,120.6 L1128.0,124.4 L1128.5,127.6 L1129.0,126.9 L1129.5,123.6 L1130.0,119.5 L1130.5,114.9 L1131.0,110.0 L1131.5,105.1 L1132.0,100.3 L1132.5,96.0 L1133.0,92.4 L1133.5,89.6 L1134.0,92.7 L1134.5,96.6 L1135.0,101.1 L1135.5,106.1 L1136.0,111.5 L1136.5,117.2 L1137.0,122.9 L1137.5,128.7 L1138.0,134.2 L1138.5,139.5 L1139.0,144.3 L1139.5,148.5 L1140.0,152.0 L1140.5,152.8 L1141.0,153.5 L1141.5,154.2 L1142.0,154.9 L1142.5,155.4 L1143.0,155.9 L1143.5,155.7 L1144.0,152.7 L1144.5,148.8 L1145.0,144.2 L1145.5,139.4 L1146.0,134.6 L1146.5,130.3 L1147.0,126.6 L1147.5,124.7 L1148.0,125.7 L1148.5,126.9 L1149.0,128.3 L1149.5,130.0 L1150.0,131.7 L1150.5,133.6 L1151.0,138.9 L1151.5,146.5 L1152.0,155.0 L1152.5,163.2 L1153.0,169.9 L1153.5,171.8 L1154.0,168.4 L1154.5,164.0 L1155.0,159.3 L1155.5,155.1 L1156.0,151.9 L1156.5,153.6 L1157.0,157.5 L1157.5,162.0 L1158.0,167.0 L1158.5,172.0 L1159.0,176.5 L1159.5,180.4 L1160.0,181.7 L1160.5,175.6 L1161.0,167.5 L1161.5,158.8 L1162.0,150.8 L1162.5,145.3 L1163.0,143.3 L1163.5,141.5 L1164.0,139.7 L1164.5,138.1 L1165.0,136.7 L1165.5,135.4 L1166.0,134.3 L1166.5,135.4 L1167.0,140.5 L1167.5,147.1 L1168.0,154.5 L1168.5,162.2 L1169.0,169.8 L1169.5,176.6 L1170.0,182.0 L1170.5,183.0 L1171.0,177.8 L1171.5,171.2 L1172.0,163.8 L1172.5,156.3 L1173.0,149.3 L1173.5,143.5 L1174.0,140.8 L1174.5,145.5 L1175.0,151.8 L1175.5,158.5 L1176.0,164.8 L1176.5,169.5 L1177.0,167.9 L1177.5,164.0 L1178.0,159.3 L1178.5,154.2 L1179.0,149.0 L1179.5,144.1 L1180.0,139.8 L1180.5,136.6 L1181.0,137.4 L1181.5,139.7 L1182.0,142.4 L1182.5,144.8 L1183.0,146.5 L1183.5,144.6 L1184.0,141.9 L1184.5,138.9 L1185.0,135.8 L1185.5,133.0 L1186.0,130.9 L1186.5,131.1 L1187.0,131.8 L1187.5,132.6 L1188.0,133.6 L1188.5,134.6 L1189.0,135.8 L1189.5,137.0 L1190.0,138.2 L1190.5,142.5 L1191.0,148.8 L1191.5,156.1 L1192.0,163.9 L1192.5,171.6 L1193.0,178.9 L1193.5,185.2 L1194.0,190.0 L1194.5,189.5 L1195.0,187.2 L1195.5,184.5 L1196.0,181.6 L1196.5,178.6 L1197.0,175.9 L1197.5,173.5 L1198.0,171.8 L1198.5,173.2 L1199.0,175.0 L1199.5,177.1 L1200.0,179.4 L1200.5,181.6 L1201.0,183.7 L1201.5,185.4 L1202.0,187.0 L1202.5,188.6 L1203.0,190.2 L1203.5,191.7 L1204.0,193.1 L1204.5,194.3 L1205.0,195.3 L1205.5,194.8 L1206.0,193.0 L1206.5,190.8 L1207.0,188.5 L1207.5,186.3 L1208.0,184.5 L1208.5,185.2 L1209.0,190.2 L1209.5,196.7 L1210.0,203.7 L1210.5,210.6 L1211.0,216.6 L1211.5,220.9 L1212.0,218.4 L1212.5,215.0 L1213.0,211.1 L1213.5,206.7 L1214.0,202.2 L1214.5,197.7 L1215.0,193.5 L1215.5,189.7 L1216.0,186.7 L1216.5,187.2 L1217.0,193.8 L1217.5,202.3 L1218.0,211.4 L1218.5,220.3 L1219.0,227.7 L1219.5,231.0 L1220.0,223.9 L1220.5,214.5 L1221.0,203.9 L1221.5,193.3 L1222.0,183.9 L1222.5,176.8 L1223.0,181.1 L1223.5,190.4 L1224.0,201.1 L1224.5,210.9 L1225.0,217.8 L1225.5,216.5 L1226.0,214.7 L1226.5,213.2 L1227.0,214.5 L1227.5,217.1 L1228.0,220.0 L1228.5,222.6 L1229.0,223.5 L1229.5,219.3 L1230.0,213.9 L1230.5,207.6 L1231.0,201.0 L1231.5,194.4 L1232.0,188.4 L1232.5,183.4 L1233.0,181.6 L1233.5,188.5 L1234.0,197.7 L1234.5,208.2 L1235.0,219.3 L1235.5,230.3 L1236.0,240.4 L1236.5,248.8 L1237.0,253.0 L1237.5,248.3 L1238.0,242.0 L1238.5,235.6 L1239.0,230.4 L1239.5,230.5 L1240.0,234.0 L1240.5,238.3 L1241.0,242.8 L1241.5,246.8 L1242.0,249.9 L1242.5,247.4 L1243.0,242.3 L1243.5,236.3 L1244.0,230.5 L1244.5,225.6 L1245.0,225.9 L1245.5,234.0 L1246.0,244.2 L1246.5,255.3 L1247.0,266.0 L1247.5,275.1 L1248.0,279.0 L1248.5,270.4 L1249.0,258.9 L1249.5,246.1 L1250.0,233.7 L1250.5,223.1 L1251.0,218.0 L1251.5,224.0 L1252.0,232.0 L1252.5,241.1 L1253.0,250.3 L1253.5,258.9 L1254.0,265.8 L1254.5,266.8 L1255.0,259.7 L1255.5,250.8 L1256.0,241.8 L1256.5,234.2 L1257.0,233.0 L1257.5,239.7 L1258.0,248.2 L1258.5,257.7 L1259.0,267.3 L1259.5,276.1 L1260.0,283.3 L1260.5,285.2 L1261.0,280.9 L1261.5,275.5 L1262.0,269.9 L1262.5,265.0 L1263.0,262.9 L1263.5,267.5 L1264.0,273.6 L1264.5,279.7 L1265.0,284.3 L1265.5,281.8 L1266.0,276.7 L1266.5,270.4 L1267.0,263.6 L1267.5,256.6 L1268.0,249.9 L1268.5,243.8 L1269.0,238.9 L1269.5,238.1 L1270.0,242.7 L1270.5,248.5 L1271.0,254.9 L1271.5,261.5 L1272.0,267.8 L1272.5,273.3 L1273.0,276.6 L1273.5,279.5 L1274.0,282.2 L1274.5,284.8 L1275.0,287.0 L1275.5,288.8 L1276.0,288.5 L1276.5,286.3 L1277.0,283.8 L1277.5,281.6 L1278.0,280.9 L1278.5,285.3 L1279.0,290.9 L1279.5,296.2 L1280.0,298.5 L1280.5,293.7 L1281.0,287.3 L1281.5,280.5 L1282.0,274.6 L1282.5,272.6 L1283.0,281.8 L1283.5,293.9 L1284.0,306.9 L1284.5,318.7 L1285.0,327.0 L1285.5,324.0 L1286.0,319.8 L1286.5,315.2 L1287.0,311.2 L1287.5,309.3 L1288.0,312.5 L1288.5,316.6 L1289.0,321.2 L1289.5,325.6 L1290.0,329.3 L1290.5,329.8 L1291.0,326.5 L1291.5,322.3 L1292.0,317.6 L1292.5,312.9 L1293.0,308.7 L1293.5,305.4 L1294.0,305.6 L1294.5,308.5 L1295.0,311.3 L1295.5,311.4 L1296.0,310.1 L1296.5,308.5 L1297.0,306.7 L1297.5,304.9 L1298.0,303.2 L1298.5,301.8 L1299.0,300.7 L1299.5,302.4 L1300.0,304.6 L1300.5,307.1 L1301.0,309.9 L1301.5,312.6 L1302.0,315.0 L1302.5,317.1 L1303.0,319.2 L1303.5,321.1 L1304.0,322.5 L1304.5,320.8 L1305.0,318.5 L1305.5,315.8 L1306.0,313.1 L1306.5,310.7 L1307.0,309.0 L1307.5,309.0 L1308.0,309.0 L1308.5,309.0 L1309.0,309.0 L1309.5,314.5 L1310.0,324.3 L1310.5,333.8 L1311.0,338.5 L1311.5,341.1 L1312.0,343.3 L1312.5,345.0 L1313.0,345.3 L1313.5,345.7 L1314.0,346.0 L1314.5,346.3 L1315.0,346.6 L1315.5,346.9 L1316.0,347.2 L1316.5,347.4 L1317.0,347.7 L1317.5,347.9 L1318.0,348.1 L1318.5,348.4 L1319.0,348.6 L1319.5,348.8 L1320.0,348.9 L1320.5,349.1 L1321.0,349.3 L1321.5,349.4 L1322.0,349.6 L1322.5,349.7 L1323.0,349.9 L1323.5,350.0" stroke="#3e6298" stroke-width="2.7"/>
<path d="M785.5,336.1 L786.5,335.1 L787.5,334.0 L788.5,332.9 L789.5,331.6 L790.5,330.3 L791.5,329.1 L792.5,327.8 L793.5,326.8 L794.5,326.0 L795.5,325.5 L796.5,325.3 L797.5,325.3 L798.5,325.5 L799.5,326.0 L800.5,326.5 L801.5,327.0 L802.5,327.4 L803.5,327.7 L804.5,327.7 L805.5,327.3 L806.5,326.6 L807.5,325.4 L808.5,323.9 L809.5,322.2 L810.5,320.5 L811.5,318.8 L812.5,317.1 L813.5,315.5 L814.5,314.0 L815.5,312.4 L816.5,310.9 L817.5,309.2 L818.5,307.5 L819.5,305.6 L820.5,303.7 L821.5,301.7 L822.5,299.5 L823.5,297.3 L824.5,295.1 L825.5,292.9 L826.5,290.8 L827.5,288.7 L828.5,286.8 L829.5,285.0 L830.5,283.5 L831.5,282.1 L832.5,280.9 L833.5,279.8 L834.5,278.8 L835.5,277.9 L836.5,277.0 L837.5,276.1 L838.5,275.2 L839.5,274.2 L840.5,273.2 L841.5,272.3 L842.5,271.3 L843.5,270.3 L844.5,269.2 L845.5,268.1 L846.5,266.9 L847.5,265.6 L848.5,264.3 L849.5,262.8 L850.5,261.3 L851.5,259.7 L852.5,258.2 L853.5,256.6 L854.5,255.1 L855.5,253.6 L856.5,252.1 L857.5,250.6 L858.5,249.0 L859.5,247.5 L860.5,245.9 L861.5,244.3 L862.5,242.8 L863.5,241.4 L864.5,240.2 L865.5,239.1 L866.5,238.2 L867.5,237.4 L868.5,236.8 L869.5,236.0 L870.5,235.1 L871.5,234.1 L872.5,233.2 L873.5,232.6 L874.5,232.6 L875.5,233.2 L876.5,234.4 L877.5,235.8 L878.5,237.1 L879.5,238.2 L880.5,238.9 L881.5,239.2 L882.5,239.3 L883.5,239.3 L884.5,239.2 L885.5,239.0 L886.5,238.7 L887.5,238.4 L888.5,238.1 L889.5,237.6 L890.5,237.2 L891.5,236.6 L892.5,236.0 L893.5,235.3 L894.5,234.6 L895.5,233.7 L896.5,232.8 L897.5,231.8 L898.5,230.8 L899.5,229.6 L900.5,228.4 L901.5,227.1 L902.5,225.8 L903.5,224.4 L904.5,223.0 L905.5,221.5 L906.5,219.9 L907.5,218.2 L908.5,216.3 L909.5,214.1 L910.5,211.6 L911.5,208.8 L912.5,205.7 L913.5,202.3 L914.5,198.7 L915.5,195.0 L916.5,191.3 L917.5,187.6 L918.5,184.1 L919.5,180.8 L920.5,177.9 L921.5,175.2 L922.5,172.8 L923.5,170.7 L924.5,169.0 L925.5,167.6 L926.5,166.3 L927.5,165.3 L928.5,164.2 L929.5,163.2 L930.5,162.0 L931.5,160.6 L932.5,159.0 L933.5,157.2 L934.5,155.5 L935.5,154.1 L936.5,153.2 L937.5,152.7 L938.5,152.7 L939.5,152.8 L940.5,153.0 L941.5,153.1 L942.5,153.1 L943.5,152.8 L944.5,152.2 L945.5,151.2 L946.5,150.0 L947.5,148.8 L948.5,147.8 L949.5,146.8 L950.5,145.9 L951.5,144.9 L952.5,143.9 L953.5,142.8 L954.5,141.8 L955.5,140.7 L956.5,139.8 L957.5,138.9 L958.5,138.2 L959.5,137.6 L960.5,137.2 L961.5,137.0 L962.5,136.9 L963.5,137.0 L964.5,137.2 L965.5,137.4 L966.5,137.6 L967.5,137.8 L968.5,137.9 L969.5,137.9 L970.5,137.7 L971.5,137.4 L972.5,137.0 L973.5,136.3 L974.5,135.5 L975.5,134.6 L976.5,133.6 L977.5,132.7 L978.5,131.8 L979.5,131.1 L980.5,130.7 L981.5,130.5 L982.5,130.5 L983.5,130.7 L984.5,131.0 L985.5,131.3 L986.5,131.5 L987.5,131.6 L988.5,131.6 L989.5,131.5 L990.5,131.4 L991.5,131.4 L992.5,131.4 L993.5,131.6 L994.5,131.8 L995.5,132.0 L996.5,132.2 L997.5,132.3 L998.5,132.1 L999.5,131.8 L1000.5,131.3 L1001.5,130.5 L1002.5,129.6 L1003.5,128.6 L1004.5,127.5 L1005.5,126.4 L1006.5,125.2 L1007.5,124.1 L1008.5,123.0 L1009.5,122.0 L1010.5,121.0 L1011.5,120.1 L1012.5,119.1 L1013.5,118.2 L1014.5,117.3 L1015.5,116.3 L1016.5,115.2 L1017.5,114.1 L1018.5,112.8 L1019.5,111.5 L1020.5,110.2 L1021.5,108.9 L1022.5,107.7 L1023.5,106.6 L1024.5,105.7 L1025.5,105.0 L1026.5,104.5 L1027.5,104.1 L1028.5,103.8 L1029.5,103.6 L1030.5,103.4 L1031.5,103.2 L1032.5,102.8 L1033.5,102.3 L1034.5,101.6 L1035.5,100.9 L1036.5,100.1 L1037.5,99.2 L1038.5,98.4 L1039.5,97.7 L1040.5,97.1 L1041.5,96.5 L1042.5,95.9 L1043.5,95.4 L1044.5,94.8 L1045.5,94.2 L1046.5,93.4 L1047.5,92.4 L1048.5,91.3 L1049.5,90.2 L1050.5,89.0 L1051.5,87.9 L1052.5,87.0 L1053.5,86.3 L1054.5,85.9 L1055.5,85.7 L1056.5,85.7 L1057.5,85.9 L1058.5,86.0 L1059.5,86.0 L1060.5,85.8 L1061.5,85.4 L1062.5,84.9 L1063.5,84.3 L1064.5,83.8 L1065.5,83.5 L1066.5,83.5 L1067.5,83.7 L1068.5,84.1 L1069.5,84.5 L1070.5,84.9 L1071.5,85.0 L1072.5,84.9 L1073.5,84.5 L1074.5,83.9 L1075.5,83.3 L1076.5,82.9 L1077.5,82.7 L1078.5,83.0 L1079.5,83.6 L1080.5,84.4 L1081.5,85.4 L1082.5,86.2 L1083.5,86.8 L1084.5,87.2 L1085.5,87.4 L1086.5,87.6 L1087.5,88.1 L1088.5,89.0 L1089.5,90.3 L1090.5,91.9 L1091.5,93.6 L1092.5,95.3 L1093.5,96.8 L1094.5,98.2 L1095.5,99.3 L1096.5,100.3 L1097.5,101.3 L1098.5,102.2 L1099.5,103.1 L1100.5,104.0 L1101.5,104.7 L1102.5,105.4 L1103.5,105.9 L1104.5,106.4 L1105.5,106.8 L1106.5,107.3 L1107.5,107.8 L1108.5,108.6 L1109.5,109.5 L1110.5,110.6 L1111.5,111.8 L1112.5,112.9 L1113.5,113.9 L1114.5,114.8 L1115.5,115.3 L1116.5,115.7 L1117.5,115.9 L1118.5,116.0 L1119.5,116.1 L1120.5,116.2 L1121.5,116.1 L1122.5,115.8 L1123.5,115.2 L1124.5,114.5 L1125.5,113.8 L1126.5,113.4 L1127.5,113.3 L1128.5,113.8 L1129.5,114.6 L1130.5,115.8 L1131.5,117.2 L1132.5,118.6 L1133.5,120.1 L1134.5,121.5 L1135.5,123.2 L1136.5,125.0 L1137.5,127.0 L1138.5,129.2 L1139.5,131.4 L1140.5,133.4 L1141.5,135.3 L1142.5,136.9 L1143.5,138.2 L1144.5,139.3 L1145.5,140.4 L1146.5,141.4 L1147.5,142.3 L1148.5,143.3 L1149.5,144.3 L1150.5,145.2 L1151.5,146.1 L1152.5,146.9 L1153.5,147.5 L1154.5,148.0 L1155.5,148.4 L1156.5,148.6 L1157.5,148.8 L1158.5,149.0 L1159.5,149.2 L1160.5,149.4 L1161.5,149.6 L1162.5,149.9 L1163.5,150.1 L1164.5,150.2 L1165.5,150.1 L1166.5,149.9 L1167.5,149.4 L1168.5,148.8 L1169.5,148.0 L1170.5,147.1 L1171.5,146.3 L1172.5,145.6 L1173.5,145.1 L1174.5,144.9 L1175.5,144.8 L1176.5,144.7 L1177.5,144.5 L1178.5,144.0 L1179.5,143.3 L1180.5,142.6 L1181.5,142.1 L1182.5,142.0 L1183.5,142.6 L1184.5,143.5 L1185.5,144.7 L1186.5,145.8 L1187.5,147.0 L1188.5,148.6 L1189.5,150.9 L1190.5,154.0 L1191.5,157.3 L1192.5,160.5 L1193.5,163.1 L1194.5,165.2 L1195.5,167.0 L1196.5,168.5 L1197.5,169.9 L1198.5,171.3 L1199.5,172.8 L1200.5,174.2 L1201.5,175.7 L1202.5,177.2 L1203.5,178.7 L1204.5,180.2 L1205.5,181.7 L1206.5,183.3 L1207.5,184.8 L1208.5,186.4 L1209.5,187.9 L1210.5,189.4 L1211.5,190.8 L1212.5,192.1 L1213.5,193.3 L1214.5,194.4 L1215.5,195.3 L1216.5,196.0 L1217.5,196.4 L1218.5,196.5 L1219.5,196.5 L1220.5,196.5 L1221.5,196.7 L1222.5,197.2 L1223.5,198.2 L1224.5,199.5 L1225.5,200.8 L1226.5,202.1 L1227.5,203.0 L1228.5,203.6 L1229.5,204.1 L1230.5,205.0 L1231.5,206.5 L1232.5,208.7 L1233.5,211.3 L1234.5,214.1 L1235.5,216.6 L1236.5,218.9 L1237.5,220.7 L1238.5,222.3 L1239.5,223.8 L1240.5,225.2 L1241.5,226.6 L1242.5,228.0 L1243.5,229.4 L1244.5,230.8 L1245.5,232.2 L1246.5,233.6 L1247.5,235.0 L1248.5,236.4 L1249.5,237.7 L1250.5,239.1 L1251.5,240.5 L1252.5,241.8 L1253.5,243.1 L1254.5,244.3 L1255.5,245.4 L1256.5,246.5 L1257.5,247.5 L1258.5,248.3 L1259.5,249.1 L1260.5,249.7 L1261.5,250.4 L1262.5,251.1 L1263.5,251.9 L1264.5,252.9 L1265.5,254.2 L1266.5,255.7 L1267.5,257.5 L1268.5,259.3 L1269.5,261.3 L1270.5,263.2 L1271.5,265.1 L1272.5,266.8 L1273.5,268.5 L1274.5,270.0 L1275.5,271.5 L1276.5,272.9 L1277.5,274.3 L1278.5,275.7 L1279.5,277.2 L1280.5,278.7 L1281.5,280.2 L1282.5,281.9 L1283.5,283.6 L1284.5,285.3 L1285.5,286.9 L1286.5,288.3 L1287.5,289.5 L1288.5,290.4 L1289.5,291.1 L1290.5,291.5 L1291.5,291.7 L1292.5,291.8 L1293.5,291.7 L1294.5,291.7 L1295.5,291.8 L1296.5,292.3 L1297.5,293.2 L1298.5,294.5 L1299.5,295.9 L1300.5,297.4 L1301.5,298.6 L1302.5,299.6 L1303.5,300.5 L1304.5,301.8 L1305.5,303.7 L1306.5,306.3 L1307.5,309.3 L1308.5,312.4 L1309.5,315.3 L1310.5,317.8 L1311.5,319.9 L1312.5,321.8 L1313.5,323.5 L1314.5,325.1 L1315.5,326.7 L1316.5,328.3 L1317.5,329.9 L1318.5,331.4 L1319.5,333.0 L1320.5,334.5 L1321.5,336.0 L1322.5,337.5 L1323.5,339.0" stroke="#58b870" stroke-width="2.6"/>
<path d="M785.5,336.5 L786.5,335.8 L787.5,335.1 L788.5,334.4 L789.5,333.8 L790.5,333.2 L791.5,332.6 L792.5,332.0 L793.5,331.5 L794.5,331.0 L795.5,330.4 L796.5,329.8 L797.5,329.3 L798.5,328.7 L799.5,328.1 L800.5,327.4 L801.5,326.7 L802.5,326.0 L803.5,325.3 L804.5,324.5 L805.5,323.6 L806.5,322.7 L807.5,321.8 L808.5,320.8 L809.5,319.8 L810.5,318.7 L811.5,317.6 L812.5,316.4 L813.5,315.1 L814.5,313.8 L815.5,312.4 L816.5,310.9 L817.5,309.4 L818.5,307.7 L819.5,306.1 L820.5,304.3 L821.5,302.6 L822.5,300.8 L823.5,299.0 L824.5,297.3 L825.5,295.6 L826.5,293.9 L827.5,292.2 L828.5,290.6 L829.5,289.0 L830.5,287.4 L831.5,285.9 L832.5,284.4 L833.5,282.9 L834.5,281.5 L835.5,280.0 L836.5,278.6 L837.5,277.2 L838.5,275.9 L839.5,274.5 L840.5,273.2 L841.5,271.9 L842.5,270.6 L843.5,269.3 L844.5,268.0 L845.5,266.7 L846.5,265.5 L847.5,264.2 L848.5,262.9 L849.5,261.5 L850.5,260.2 L851.5,258.9 L852.5,257.6 L853.5,256.3 L854.5,255.0 L855.5,253.7 L856.5,252.5 L857.5,251.3 L858.5,250.1 L859.5,249.0 L860.5,248.0 L861.5,247.0 L862.5,246.1 L863.5,245.3 L864.5,244.6 L865.5,243.9 L866.5,243.3 L867.5,242.8 L868.5,242.4 L869.5,242.0 L870.5,241.6 L871.5,241.3 L872.5,241.1 L873.5,240.8 L874.5,240.6 L875.5,240.5 L876.5,240.3 L877.5,240.2 L878.5,240.1 L879.5,239.9 L880.5,239.8 L881.5,239.7 L882.5,239.5 L883.5,239.4 L884.5,239.2 L885.5,239.0 L886.5,238.7 L887.5,238.4 L888.5,238.1 L889.5,237.6 L890.5,237.2 L891.5,236.6 L892.5,236.0 L893.5,235.3 L894.5,234.6 L895.5,233.7 L896.5,232.8 L897.5,231.8 L898.5,230.8 L899.5,229.6 L900.5,228.4 L901.5,227.1 L902.5,225.8 L903.5,224.4 L904.5,223.0 L905.5,221.5 L906.5,220.0 L907.5,218.3 L908.5,216.4 L909.5,214.4 L910.5,212.1 L911.5,209.5 L912.5,206.7 L913.5,203.7 L914.5,200.7 L915.5,197.6 L916.5,194.6 L917.5,191.7 L918.5,189.1 L919.5,186.7 L920.5,184.5 L921.5,182.4 L922.5,180.5 L923.5,178.7 L924.5,177.0 L925.5,175.3 L926.5,173.6 L927.5,171.9 L928.5,170.2 L929.5,168.5 L930.5,166.8 L931.5,165.1 L932.5,163.5 L933.5,161.9 L934.5,160.4 L935.5,159.1 L936.5,157.8 L937.5,156.7 L938.5,155.6 L939.5,154.7 L940.5,153.8 L941.5,153.0 L942.5,152.3 L943.5,151.6 L944.5,150.9 L945.5,150.2 L946.5,149.5 L947.5,148.9 L948.5,148.3 L949.5,147.7 L950.5,147.1 L951.5,146.5 L952.5,145.9 L953.5,145.4 L954.5,144.9 L955.5,144.4 L956.5,143.9 L957.5,143.4 L958.5,143.0 L959.5,142.6 L960.5,142.2 L961.5,141.8 L962.5,141.5 L963.5,141.1 L964.5,140.8 L965.5,140.6 L966.5,140.3 L967.5,140.0 L968.5,139.8 L969.5,139.6 L970.5,139.4 L971.5,139.2 L972.5,139.0 L973.5,138.8 L974.5,138.6 L975.5,138.5 L976.5,138.3 L977.5,138.2 L978.5,138.0 L979.5,137.9 L980.5,137.8 L981.5,137.7 L982.5,137.6 L983.5,137.5 L984.5,137.4 L985.5,137.3 L986.5,137.2 L987.5,137.2 L988.5,137.1 L989.5,137.0 L990.5,136.9 L991.5,136.8 L992.5,136.6 L993.5,136.5 L994.5,136.3 L995.5,136.1 L996.5,135.8 L997.5,135.5 L998.5,135.2 L999.5,134.7 L1000.5,134.3 L1001.5,133.8 L1002.5,133.2 L1003.5,132.6 L1004.5,132.0 L1005.5,131.3 L1006.5,130.6 L1007.5,129.8 L1008.5,129.0 L1009.5,128.2 L1010.5,127.3 L1011.5,126.4 L1012.5,125.5 L1013.5,124.6 L1014.5,123.6 L1015.5,122.7 L1016.5,121.7 L1017.5,120.8 L1018.5,119.9 L1019.5,118.9 L1020.5,118.0 L1021.5,117.1 L1022.5,116.3 L1023.5,115.4 L1024.5,114.5 L1025.5,113.7 L1026.5,112.9 L1027.5,112.1 L1028.5,111.3 L1029.5,110.6 L1030.5,109.9 L1031.5,109.1 L1032.5,108.4 L1033.5,107.7 L1034.5,107.0 L1035.5,106.3 L1036.5,105.6 L1037.5,105.0 L1038.5,104.3 L1039.5,103.6 L1040.5,102.9 L1041.5,102.2 L1042.5,101.5 L1043.5,100.8 L1044.5,100.1 L1045.5,99.4 L1046.5,98.8 L1047.5,98.1 L1048.5,97.4 L1049.5,96.8 L1050.5,96.2 L1051.5,95.7 L1052.5,95.1 L1053.5,94.7 L1054.5,94.2 L1055.5,93.8 L1056.5,93.4 L1057.5,93.1 L1058.5,92.8 L1059.5,92.5 L1060.5,92.2 L1061.5,91.9 L1062.5,91.7 L1063.5,91.5 L1064.5,91.3 L1065.5,91.1 L1066.5,91.0 L1067.5,90.8 L1068.5,90.7 L1069.5,90.7 L1070.5,90.7 L1071.5,90.7 L1072.5,90.7 L1073.5,90.8 L1074.5,90.9 L1075.5,91.0 L1076.5,91.2 L1077.5,91.4 L1078.5,91.7 L1079.5,92.0 L1080.5,92.3 L1081.5,92.7 L1082.5,93.1 L1083.5,93.6 L1084.5,94.1 L1085.5,94.7 L1086.5,95.3 L1087.5,96.0 L1088.5,96.7 L1089.5,97.4 L1090.5,98.2 L1091.5,99.0 L1092.5,99.9 L1093.5,100.7 L1094.5,101.6 L1095.5,102.4 L1096.5,103.3 L1097.5,104.1 L1098.5,105.0 L1099.5,105.8 L1100.5,106.6 L1101.5,107.4 L1102.5,108.2 L1103.5,109.0 L1104.5,109.7 L1105.5,110.5 L1106.5,111.2 L1107.5,111.9 L1108.5,112.6 L1109.5,113.3 L1110.5,114.0 L1111.5,114.7 L1112.5,115.4 L1113.5,116.0 L1114.5,116.6 L1115.5,117.3 L1116.5,117.9 L1117.5,118.5 L1118.5,119.1 L1119.5,119.7 L1120.5,120.3 L1121.5,120.9 L1122.5,121.5 L1123.5,122.1 L1124.5,122.7 L1125.5,123.3 L1126.5,124.0 L1127.5,124.6 L1128.5,125.3 L1129.5,126.1 L1130.5,126.9 L1131.5,127.7 L1132.5,128.6 L1133.5,129.5 L1134.5,130.4 L1135.5,131.4 L1136.5,132.5 L1137.5,133.5 L1138.5,134.6 L1139.5,135.6 L1140.5,136.7 L1141.5,137.8 L1142.5,138.9 L1143.5,139.9 L1144.5,140.9 L1145.5,142.0 L1146.5,142.9 L1147.5,143.9 L1148.5,144.8 L1149.5,145.7 L1150.5,146.5 L1151.5,147.2 L1152.5,147.9 L1153.5,148.6 L1154.5,149.2 L1155.5,149.7 L1156.5,150.2 L1157.5,150.6 L1158.5,150.9 L1159.5,151.2 L1160.5,151.4 L1161.5,151.6 L1162.5,151.7 L1163.5,151.8 L1164.5,151.9 L1165.5,151.9 L1166.5,152.0 L1167.5,152.0 L1168.5,152.1 L1169.5,152.1 L1170.5,152.2 L1171.5,152.2 L1172.5,152.3 L1173.5,152.4 L1174.5,152.5 L1175.5,152.6 L1176.5,152.7 L1177.5,152.8 L1178.5,152.9 L1179.5,153.1 L1180.5,153.4 L1181.5,153.7 L1182.5,154.1 L1183.5,154.6 L1184.5,155.3 L1185.5,156.0 L1186.5,156.8 L1187.5,157.8 L1188.5,158.8 L1189.5,159.8 L1190.5,160.9 L1191.5,162.1 L1192.5,163.3 L1193.5,164.6 L1194.5,165.9 L1195.5,167.2 L1196.5,168.6 L1197.5,169.9 L1198.5,171.3 L1199.5,172.8 L1200.5,174.2 L1201.5,175.7 L1202.5,177.2 L1203.5,178.7 L1204.5,180.2 L1205.5,181.7 L1206.5,183.3 L1207.5,184.8 L1208.5,186.4 L1209.5,187.9 L1210.5,189.4 L1211.5,190.8 L1212.5,192.2 L1213.5,193.5 L1214.5,194.8 L1215.5,196.0 L1216.5,197.2 L1217.5,198.3 L1218.5,199.4 L1219.5,200.5 L1220.5,201.6 L1221.5,202.7 L1222.5,203.7 L1223.5,204.8 L1224.5,205.9 L1225.5,207.0 L1226.5,208.1 L1227.5,209.2 L1228.5,210.3 L1229.5,211.4 L1230.5,212.6 L1231.5,213.7 L1232.5,214.9 L1233.5,216.1 L1234.5,217.4 L1235.5,218.6 L1236.5,219.9 L1237.5,221.2 L1238.5,222.5 L1239.5,223.9 L1240.5,225.2 L1241.5,226.6 L1242.5,228.0 L1243.5,229.4 L1244.5,230.8 L1245.5,232.2 L1246.5,233.6 L1247.5,235.0 L1248.5,236.4 L1249.5,237.8 L1250.5,239.1 L1251.5,240.5 L1252.5,241.8 L1253.5,243.2 L1254.5,244.5 L1255.5,245.8 L1256.5,247.1 L1257.5,248.4 L1258.5,249.7 L1259.5,251.0 L1260.5,252.3 L1261.5,253.6 L1262.5,254.8 L1263.5,256.1 L1264.5,257.4 L1265.5,258.7 L1266.5,260.0 L1267.5,261.3 L1268.5,262.5 L1269.5,263.8 L1270.5,265.1 L1271.5,266.4 L1272.5,267.8 L1273.5,269.1 L1274.5,270.4 L1275.5,271.7 L1276.5,273.0 L1277.5,274.3 L1278.5,275.6 L1279.5,276.9 L1280.5,278.2 L1281.5,279.5 L1282.5,280.8 L1283.5,282.1 L1284.5,283.4 L1285.5,284.6 L1286.5,285.9 L1287.5,287.1 L1288.5,288.4 L1289.5,289.7 L1290.5,290.9 L1291.5,292.2 L1292.5,293.4 L1293.5,294.7 L1294.5,296.0 L1295.5,297.3 L1296.5,298.5 L1297.5,299.9 L1298.5,301.2 L1299.5,302.5 L1300.5,303.9 L1301.5,305.3 L1302.5,306.7 L1303.5,308.2 L1304.5,309.6 L1305.5,311.1 L1306.5,312.6 L1307.5,314.2 L1308.5,315.7 L1309.5,317.3 L1310.5,318.8 L1311.5,320.4 L1312.5,322.0 L1313.5,323.6 L1314.5,325.1 L1315.5,326.7 L1316.5,328.3 L1317.5,329.9 L1318.5,331.4 L1319.5,333.0 L1320.5,334.5 L1321.5,336.0 L1322.5,337.5 L1323.5,339.0" stroke="#d3252b" stroke-width="3.1"/>
</g>
<rect x="785.5" y="47.5" width="538.0" height="289.7" fill="none" stroke="#231f20" stroke-width="3.1"/>
<g stroke="#231f20" stroke-width="3"><line x1="785.5" y1="80.5" x2="799.0" y2="80.5"/><line x1="785.5" y1="160.9" x2="799.0" y2="160.9"/><line x1="785.5" y1="241.3" x2="799.0" y2="241.3"/><line x1="785.5" y1="321.7" x2="799.0" y2="321.7"/><line x1="934.8" y1="337.2" x2="934.8" y2="324.2"/><line x1="1084.2" y1="337.2" x2="1084.2" y2="324.2"/><line x1="1233.5" y1="337.2" x2="1233.5" y2="324.2"/></g>
<g font-size="34.5" text-anchor="end"><text x="772.5" y="91.7">89.0</text><text x="772.5" y="172.1">88.5</text><text x="772.5" y="252.5">88.0</text><text x="772.5" y="332.9">87.5</text></g>
<g font-size="34.5"><text x="734.0" y="371.6">0.022<tspan dx="7.4">8</tspan></text><text x="883.6" y="371.6">0.023<tspan dx="7.4">1</tspan></text><text x="1032.6" y="371.6">0.023<tspan dx="7.4">4</tspan></text><text x="1181.4" y="371.6">0.023<tspan dx="7.4">7</tspan></text></g>
<text x="1055.5" y="417.6" font-size="34" text-anchor="middle">Time/s</text>
<text transform="translate(695.2,192.3) rotate(-90)" font-size="34" text-anchor="middle">Phase/rad</text>
<line x1="939.6" y1="220.5" x2="969.6" y2="220.5" stroke="#3e5a8e" stroke-width="2.8" stroke-linecap="round"/>
<text x="978.6" y="231.8" font-size="33.4" letter-spacing="0.85">EFA</text>
<line x1="939.6" y1="252.4" x2="969.6" y2="252.4" stroke="#55b56f" stroke-width="2.8" stroke-linecap="round"/>
<text x="978.6" y="263.7" font-size="33.4" letter-spacing="0.85">VMD-CC</text>
<line x1="939.6" y1="283.5" x2="969.6" y2="283.5" stroke="#cf4a56" stroke-width="2.8" stroke-linecap="round"/>
<text x="978.6" y="294.8" font-size="33.4" letter-spacing="0.85">AEFA-ASVMD</text>
</svg></body></html>
